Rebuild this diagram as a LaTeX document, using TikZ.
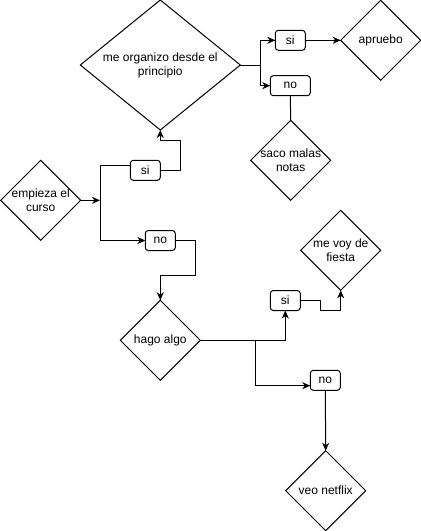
\documentclass[tikz,border=0pt]{standalone}
\usepackage{fontspec}
\setmainfont{Liberation Sans}
\usetikzlibrary{shapes.geometric,arrows.meta}
\begin{document}
\begin{tikzpicture}[x=1pt,y=-1pt,
  font=\fontsize{12}{14}\selectfont,
  line width=1pt,
  dia/.style={diamond, draw, inner sep=0pt, outer sep=0pt},
  lbl/.style={draw, rounded corners=3pt, inner sep=0pt, outer sep=0pt, minimum height=20pt},
  arr/.style={-{Stealth[length=8pt,width=7pt,inset=2.5pt]}}]
\useasboundingbox (0,0) rectangle (421,531);
% diamonds
\node[dia, minimum width=160pt, minimum height=130pt,
  label={[align=center]center:me organizo desde el\\principio}] (org) at (160.3,65) {};
\node[dia, minimum width=80pt, minimum height=80pt,
  label={center:apruebo}] (apr) at (380.7,40.3) {};
\node[dia, minimum width=80pt, minimum height=80pt,
  label={[align=center]center:saco malas\\notas}] (saco) at (290.7,160.3) {};
\node[dia, minimum width=80pt, minimum height=80pt,
  label={[align=center]center:empieza el\\curso}] (emp) at (40.7,200.3) {};
\node[dia, minimum width=80pt, minimum height=80pt,
  label={[align=center]center:me voy de\\fiesta}] (fie) at (340.7,250.3) {};
\node[dia, minimum width=80pt, minimum height=80pt,
  label={center:hago algo}] (hago) at (160.3,340.3) {};
\node[dia, minimum width=80pt, minimum height=80pt,
  label={center:veo netflix}] (net) at (325.7,490.7) {};
% labels
\node[lbl, minimum width=30pt] (si2) at (290.3,40.3) {si};
\node[lbl, minimum width=40pt] (no2) at (290.3,85.7) {no};
\node[lbl, minimum width=30pt] (si1) at (145.3,170.3) {si};
\node[lbl, minimum width=30pt] (no1) at (160.3,240.5) {no};
\node[lbl, minimum width=30pt] (si3) at (285.3,300.5) {si};
\node[lbl, minimum width=30pt] (no3) at (325.3,380.3) {no};
% junctions
\coordinate (j1) at (100,200.3);
\coordinate (j1t) at (100,165.3);
\coordinate (c1) at (180.3,140.3);
\coordinate (j2) at (260,65);
\coordinate (c2) at (195.3,275.7);
\coordinate (j3) at (255.3,340.3);
\coordinate (j3b) at (255.3,385.7);
\coordinate (c3) at (320.3,310.3);
% connectors
\draw[arr] (emp.east) -- (j1);
\draw (j1) -- (j1t) -- (j1t -| si1.west);
\draw[arr] (j1) |- (no1.west);
\draw[arr] (si1.east) -| (c1) -| (org.south);
\draw (org.east) -- (j2);
\draw[arr] (j2) |- (si2.west);
\draw[arr] (j2) |- (no2.west);
\draw[arr] (si2.east) -- (apr.west);
\draw (no2.south) -- (saco.north);
\draw[arr] (no1.east) -| (c2) -| (hago.north);
\draw (hago.east) -- (j3);
\draw[arr] (j3) -| (si3.south);
\draw[arr] (j3) -- (j3b) -- (j3b -| no3.west);
\draw[arr] (si3.east) -| (c3) -| (fie.south);
\draw[arr] (no3.south) -- (net.north);
\end{tikzpicture}
\end{document}
